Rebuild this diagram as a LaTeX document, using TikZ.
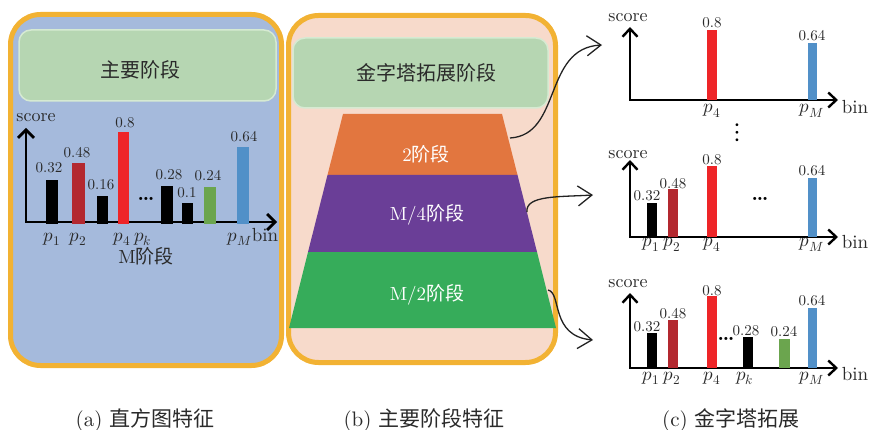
\documentclass[tikz,border=0pt]{standalone}
\usepackage{fontspec}
\usepackage{unicode-math}
\setmainfont{lmroman10-regular.otf}[BoldFont=lmroman10-bold.otf]
\newfontfamily\cjk{Noto Sans CJK SC}
\usetikzlibrary{arrows.meta}

\definecolor{frameorange}{HTML}{F2B233}
\definecolor{panelblue}{HTML}{A5BADC}
\definecolor{panelpeach}{HTML}{F7DACB}
\definecolor{boxgreen}{HTML}{B6D6B2}
\definecolor{boxedge}{HTML}{D6EAD2}
\definecolor{stageorange}{HTML}{E2763F}
\definecolor{stagepurple}{HTML}{6A3E97}
\definecolor{stagegreen}{HTML}{36AC5A}
\definecolor{bardarkred}{HTML}{B3282F}
\definecolor{barred}{HTML}{EE2528}
\definecolor{bargreen}{HTML}{6BA54E}
\definecolor{barblue}{HTML}{5190C8}
\definecolor{inktext}{HTML}{2A2A2A}
\definecolor{linkgray}{HTML}{222222}

\tikzset{
  panel/.style={line width=5pt, draw=frameorange, rounded corners=30pt},
  titlebox/.style={fill=boxgreen, draw=boxedge, line width=1.5pt, rounded corners=12pt, inner sep=0pt},
  titletext/.style={font=\cjk\fontsize{20}{20}\selectfont, text=inktext, inner sep=0pt},
  stagetext/.style={font=\fontsize{19}{19}\selectfont, text=white, inner sep=0pt},
  bigaxes/.style={line width=2.8pt, line join=miter,
    {Straight Barb[length=8pt,width=16pt]}-{Straight Barb[length=8pt,width=16pt]}},
  smallaxes/.style={line width=2.4pt, line join=miter,
    {Straight Barb[length=8pt,width=15pt]}-{Straight Barb[length=8pt,width=15pt]}},
  num/.style={font=\fontsize{15}{15}\selectfont, text=inktext, inner sep=0pt},
  axlabel/.style={font=\fontsize{19}{19}\selectfont, text=inktext, inner sep=0pt, anchor=base},
  scorelabel/.style={font=\fontsize{18}{18}\selectfont, text=inktext, inner sep=0pt},
  dots/.style={font=\bfseries\fontsize{20}{20}\selectfont, inner sep=0pt},
  vdots/.style={font=\fontsize{27}{27}\selectfont, inner sep=0pt},
  link/.style={line width=1.3pt, draw=linkgray, -{Straight Barb[length=14pt,width=20pt]}},
  caption/.style={font=\fontsize{21}{21}\selectfont, text=inktext, inner sep=0pt},
}

\begin{document}
\begin{tikzpicture}[x=1pt, y=-1pt]
\useasboundingbox (0,0) rectangle (869,430);

% ---------- panel (a): histogram feature ----------
\draw[panel, fill=panelblue] (10.5,14.5) rectangle (281.5,365.5);
\node[titlebox, minimum width=257pt, minimum height=71pt] (boxa) at (147.5,65.5) {};
\node[titletext] (tita) at (140,70) {主要阶段};

\draw[bigaxes] (26,128) coordinate (ya) -- (26,222) coordinate (oa) -- (277,222) coordinate (xa);
\fill[black]       (46,224) rectangle (58,180);
\fill[bardarkred]  (72,224) rectangle (85,163);
\fill[black]       (97,224) rectangle (108,196);
\fill[barred]      (118,224) rectangle (129,132);
\fill[black]       (161,224) rectangle (173,186);
\fill[black]       (182,224) rectangle (193,203);
\fill[bargreen]    (204,224) rectangle (216,187);
\fill[barblue]     (237,224) rectangle (249,147);

\node[scorelabel] (sa) at (36,118) {score};
\node[num] (a1) at (49,168) {0.32};
\node[num] (a2) at (77,153) {0.48};
\node[num] (a3) at (101,185) {0.16};
\node[num] (a4) at (125,123) {0.8};
\node[dots] (adots) at (146,199) {\ldots};
\node[num] (a5) at (169,175) {0.28};
\node[num] (a6) at (187,193) {0.1};
\node[num] (a7) at (208,176) {0.24};
\node[num] (a8) at (244,137) {0.64};
\node[axlabel] (pa1) at (52,241) {$p_1$};
\node[axlabel] (pa2) at (78,241) {$p_2$};
\node[axlabel] (pa4) at (122,241) {$p_4$};
\node[axlabel] (pak) at (143,241) {$p_k$};
\node[axlabel] (paM) at (240,241) {$p_M$};
\node[axlabel] (bina) at (265,241) {bin};
\node[scorelabel, font=\fontsize{19}{19}\selectfont] (ma) at (146,256) {M{\cjk 阶段}};

% ---------- panel (b): main stage feature ----------
\draw[panel, fill=panelpeach] (288.5,15.5) rectangle (555.5,362.5);
\node[titlebox, minimum width=255pt, minimum height=70pt] (boxb) at (420.5,73) {};
\node[titletext] (titb) at (426.5,73) {金字塔拓展阶段};

\fill[stageorange] (343,114) -- (502,114) -- (517.5,175) -- (327.5,175) -- cycle;
\fill[stagepurple] (327.5,175) -- (517.5,175) -- (537,252) -- (308,252) -- cycle;
\fill[stagegreen]  (308,252) -- (537,252) -- (556,328) -- (289,328) -- cycle;
\node[stagetext] (st2) at (426,154) {2{\cjk 阶段}};
\node[stagetext] (st4) at (427,215) {M/4{\cjk 阶段}};
\node[stagetext] (stM) at (427,295) {M/2{\cjk 阶段}};

% ---------- panel (c): pyramid expansion ----------
% level 2
\draw[smallaxes] (630,27) -- (630,100) -- (838,100);
\fill[barred]  (707,100) rectangle (717,30);
\fill[barblue] (808,100) rectangle (817,43);
\node[scorelabel] (sc1) at (628,17.5) {score};
\node[num] (c1a) at (712,23) {0.8};
\node[num] (c1b) at (812,36) {0.64};
\node[axlabel] (c1p4) at (712,113) {$p_4$};
\node[axlabel] (c1pM) at (812,113) {$p_M$};
\node[axlabel] (c1bin) at (855,114) {bin};
\node[vdots] (vd) at (737,133) {$\vdots$};

% level M/4
\draw[smallaxes] (630,160) -- (630,237) -- (838,237);
\fill[black]      (647,237) rectangle (657,203);
\fill[bardarkred] (668,237) rectangle (678,189);
\fill[barred]     (707,237) rectangle (717,166);
\fill[barblue]    (808,237) rectangle (817,178);
\node[scorelabel] (sc2) at (628,155) {score};
\node[num] (c2a) at (647,196) {0.32};
\node[num] (c2b) at (673,184) {0.48};
\node[num] (c2c) at (712,160) {0.8};
\node[dots] (c2dots) at (760,199) {\ldots};
\node[num] (c2d) at (812,171) {0.64};
\node[axlabel] (c2p1) at (651,247) {$p_1$};
\node[axlabel] (c2p2) at (672,247) {$p_2$};
\node[axlabel] (c2p4) at (712,247) {$p_4$};
\node[axlabel] (c2pM) at (812,247) {$p_M$};
\node[axlabel] (c2bin) at (855,248) {bin};

% level M/2
\draw[smallaxes] (630,293) -- (630,368) -- (838,368);
\fill[black]      (647,368) rectangle (657,333);
\fill[bardarkred] (668,368) rectangle (678,320);
\fill[barred]     (707,368) rectangle (717,296);
\fill[black]      (743,368) rectangle (753,337);
\fill[bargreen]   (779,368) rectangle (790,339);
\fill[barblue]    (808,368) rectangle (817,308);
\node[scorelabel] (sc3) at (628,284) {score};
\node[num] (c3a) at (647,327) {0.32};
\node[num] (c3b) at (673,314) {0.48};
\node[num] (c3c) at (712,291) {0.8};
\node[dots] (c3dots) at (726,339) {\ldots};
\node[num] (c3d) at (746,331) {0.28};
\node[num] (c3e) at (784,332) {0.24};
\node[num] (c3f) at (812,301) {0.64};
\node[axlabel] (c3p1) at (651,380) {$p_1$};
\node[axlabel] (c3p2) at (672,380) {$p_2$};
\node[axlabel] (c3p4) at (712,380) {$p_4$};
\node[axlabel] (c3pk) at (745,380) {$p_k$};
\node[axlabel] (c3pM) at (812,380) {$p_M$};
\node[axlabel] (c3bin) at (855,380) {bin};

% ---------- links from pyramid levels to expanded histograms ----------
\coordinate (from2) at (510,138);
\coordinate (to2) at (602,45);
\coordinate (from4) at (527,212);
\coordinate (to4) at (593,195);
\coordinate (fromM) at (548,290);
\coordinate (toM) at (593,340);
\draw[link] (from2) .. controls (562,135) and (543,48) .. (to2);
\draw[link] (from4) .. controls (525,195) and (560,197) .. (to4);
\draw[link] (fromM) .. controls (562,293) and (550,336) .. (toM);

% ---------- captions ----------
\node[caption] (capa) at (145,420) {(a) {\cjk 直方图特征}};
\node[caption] (capb) at (424,420) {(b) {\cjk 主要阶段特征}};
\node[caption] (capc) at (731,420) {(c) {\cjk 金字塔拓展}};
\end{tikzpicture}
\end{document}
